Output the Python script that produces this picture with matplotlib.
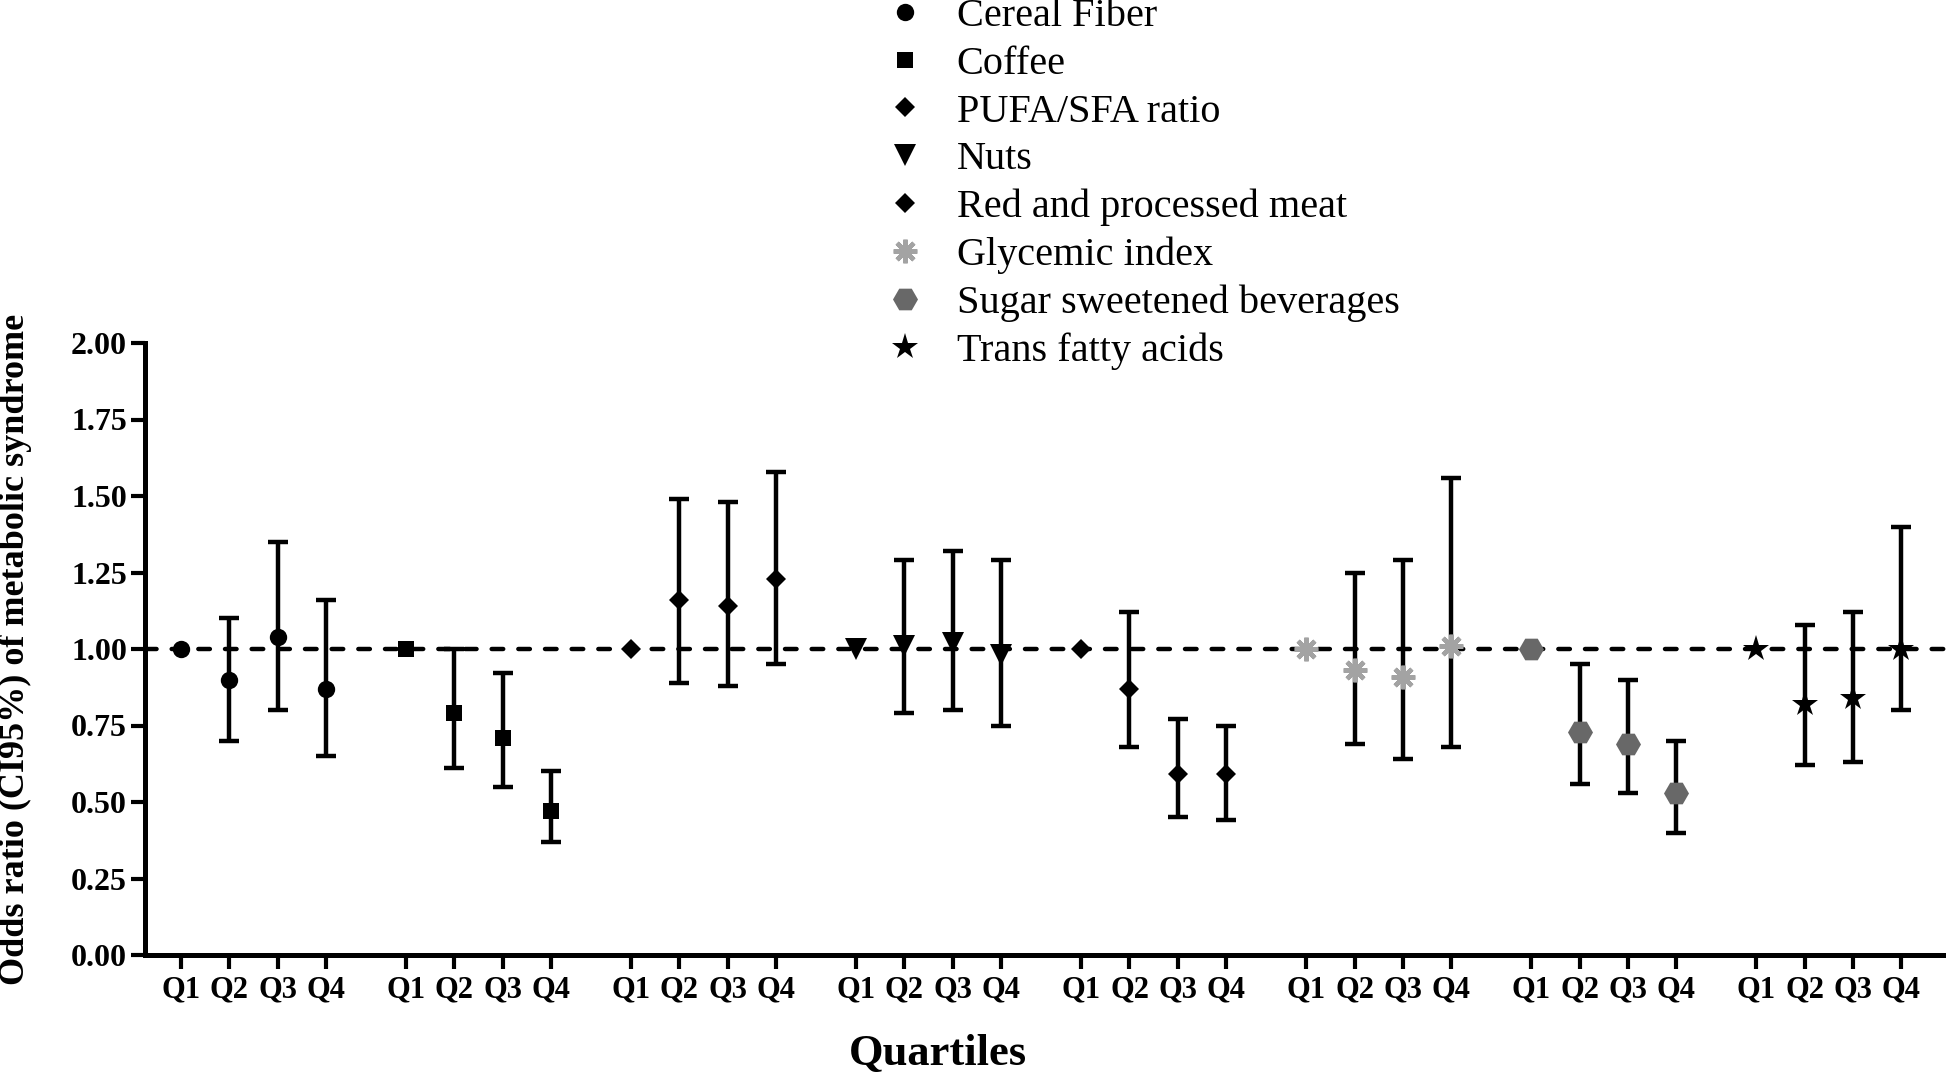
import numpy as np
import matplotlib
matplotlib.use("Agg")
import matplotlib.pyplot as plt

plt.rcParams['font.family'] = ['Liberation Serif', 'DejaVu Serif']

# ---------------- data ----------------
quartiles = ['Q1', 'Q2', 'Q3', 'Q4']
series_names = ['Cereal Fiber', 'Coffee', 'PUFA/SFA ratio', 'Nuts',
                'Red and processed meat', 'Glycemic index',
                'Sugar sweetened beverages', 'Trans fatty acids']

cereal_or = [1.00, 0.90, 1.04, 0.87]
cereal_lo = [None, 0.70, 0.80, 0.65]
cereal_hi = [None, 1.10, 1.35, 1.16]

coffee_or = [1.00, 0.79, 0.71, 0.47]
coffee_lo = [None, 0.61, 0.55, 0.37]
coffee_hi = [None, 1.00, 0.92, 0.60]

pufa_or = [1.00, 1.16, 1.14, 1.23]
pufa_lo = [None, 0.89, 0.88, 0.95]
pufa_hi = [None, 1.49, 1.48, 1.58]

nuts_or = [1.00, 1.01, 1.02, 0.98]
nuts_lo = [None, 0.79, 0.80, 0.75]
nuts_hi = [None, 1.29, 1.32, 1.29]

meat_or = [1.00, 0.87, 0.59, 0.59]
meat_lo = [None, 0.68, 0.45, 0.44]
meat_hi = [None, 1.12, 0.77, 0.75]

gi_or = [1.00, 0.93, 0.91, 1.01]
gi_lo = [None, 0.69, 0.64, 0.68]
gi_hi = [None, 1.25, 1.29, 1.56]

ssb_or = [1.00, 0.73, 0.69, 0.53]
ssb_lo = [None, 0.56, 0.53, 0.40]
ssb_hi = [None, 0.95, 0.90, 0.70]

tfa_or = [1.00, 0.82, 0.84, 1.00]
tfa_lo = [None, 0.62, 0.63, 0.80]
tfa_hi = [None, 1.08, 1.12, 1.40]

y_ticks = [0.00, 0.25, 0.50, 0.75, 1.00, 1.25, 1.50, 1.75, 2.00]

series = [
    (cereal_or, cereal_lo, cereal_hi),
    (coffee_or, coffee_lo, coffee_hi),
    (pufa_or, pufa_lo, pufa_hi),
    (nuts_or, nuts_lo, nuts_hi),
    (meat_or, meat_lo, meat_hi),
    (gi_or, gi_lo, gi_hi),
    (ssb_or, ssb_lo, ssb_hi),
    (tfa_or, tfa_lo, tfa_hi),
]

# ---------------- styles ----------------
marker_styles = [
    dict(marker='o', ms=12.5, color='black'),
    dict(marker='s', ms=12, color='black'),
    dict(marker='D', ms=10.5, color='black'),
    dict(marker='v', ms=16, color='black'),
    dict(marker='D', ms=10.5, color='black'),
    dict(marker=(8, 2, 0), ms=17, color='#a3a3a3', mew=3.2),
    dict(marker='H', ms=18, color='#686868'),
    dict(marker='*', ms=20, color='black'),
]
group_step = 4.65

fig = plt.figure(figsize=(19.46, 10.75), dpi=100)
ax = fig.add_axes([145 / 1946, 1 - 955 / 1075, 1 - 145 / 1946, (955 - 343) / 1075])

ax.axhline(1.0, color='black', lw=3.2, linestyle=(0, (2.6, 3.4)),
           dash_capstyle='round', zorder=1)

handles = []
xticks = []
xlabels = []
for g, ((orv, lo, hi), st) in enumerate(zip(series, marker_styles)):
    xs = np.array([g * group_step + q for q in range(4)])
    xticks.extend(xs)
    xlabels.extend(quartiles)
    orv = np.array(orv, dtype=float)
    lo = np.array([np.nan if v is None else v for v in lo], dtype=float)
    hi = np.array([np.nan if v is None else v for v in hi], dtype=float)
    m = ~np.isnan(lo)
    ax.errorbar(xs[m], orv[m], yerr=[orv[m] - lo[m], hi[m] - orv[m]],
                fmt='none', ecolor='black', elinewidth=3.2, capsize=7.5,
                capthick=3.2, zorder=2)
    kw = dict(st)
    color = kw.pop('color')
    mew = kw.pop('mew', 0)
    h, = ax.plot(xs, orv, linestyle='none', color=color, mfc=color, mec=color,
                 mew=mew, zorder=3, label=series_names[g], **kw)
    handles.append(h)

ax.set_xlim(-0.74, 36.47)
ax.set_ylim(0, 2.0)
ax.set_yticks(y_ticks)
ax.set_yticklabels([f'{v:.2f}' for v in y_ticks])
ax.set_xticks(xticks)
ax.set_xticklabels(xlabels)

for s in ['top', 'right']:
    ax.spines[s].set_visible(False)
for s in ['left', 'bottom']:
    ax.spines[s].set_linewidth(3.6)
ax.tick_params(axis='both', width=3, length=10, labelsize=22, direction='out')
ax.tick_params(axis='y', labelsize=23, pad=3)
ax.tick_params(axis='x', pad=5)
for lab in ax.get_xticklabels() + ax.get_yticklabels():
    lab.set_fontweight('bold')

ax.set_ylabel('Odds ratio (CI95%) of metabolic syndrome', fontsize=26,
              fontweight='bold')
ax.yaxis.set_label_coords(-0.072, 0.5)
ax.set_xlabel('Quartiles', fontsize=32, fontweight='bold')
ax.xaxis.set_label_coords(0.44, -0.162)
ax.xaxis.label.set_va('center')
ax.yaxis.label.set_va('center')

leg = fig.legend(handles=handles, loc='upper left',
                 bbox_to_anchor=(885 / 1946, 1 + 2 / 1075),
                 frameon=False, fontsize=29, labelspacing=0.26,
                 handlelength=1.0, handletextpad=0.78, borderaxespad=0,
                 borderpad=0, numpoints=1)

fig.savefig('out.png', dpi=100)
